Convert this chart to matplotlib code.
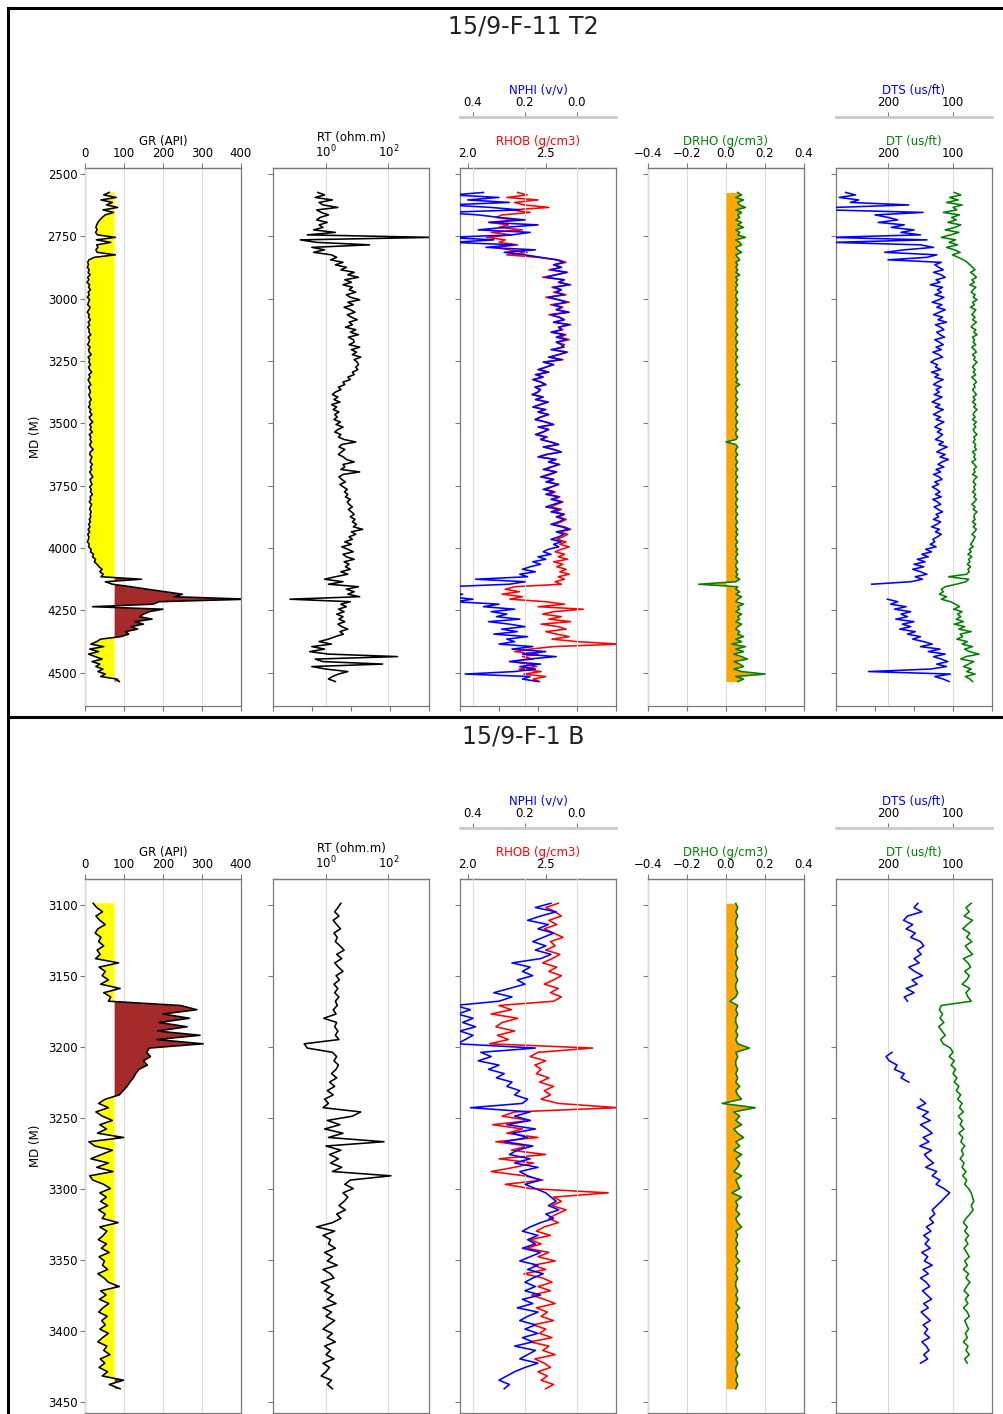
import numpy as np
import matplotlib
matplotlib.use("Agg")
import matplotlib.pyplot as plt
from matplotlib.lines import Line2D
from matplotlib.ticker import MultipleLocator, NullLocator

nan = np.nan
plt.rcParams['font.family'] = ['DejaVu Sans']

# ---------------------------------------------------------------- data
WELL_NAMES = ['15/9-F-11 T2', '15/9-F-1 B']

# Well 15/9-F-11 T2 : MD sampled every 10 m
w1_depth = np.arange(2575, 4536, 10)
w1_gr = [62, 48, 80, 41, 70, 55, 84, 46, 73, 52,
         44, 38, 33, 30, 28, 31, 27, 32, 78, 29,
         66, 30, 33, 28, 31, 78, 24, 10, 7, 9,
         6, 11, 8, 13, 7, 10, 5, 12, 9, 14,
         8, 11, 6, 12, 9, 7, 13, 10, 6, 11,
         9, 14, 8, 12, 7, 11, 10, 15, 8, 12,
         10, 7, 13, 9, 11, 16, 8, 12, 10, 14,
         9, 12, 17, 10, 13, 8, 11, 15, 9, 12,
         14, 10, 12, 16, 11, 13, 9, 15, 12, 18,
         11, 14, 20, 12, 16, 13, 19, 11, 15, 13,
         17, 12, 15, 21, 14, 12, 18, 15, 13, 19,
         14, 17, 12, 16, 20, 13, 15, 18, 12, 16,
         14, 19, 13, 15, 11, 17, 14, 12, 16, 13,
         15, 11, 14, 9, 13, 8, 12, 7, 10, 9,
         6, 11, 9, 16, 14, 22, 19, 27, 24, 31,
         36, 44, 38, 47, 41, 145, 52, 70, 118, 160,
         205, 250, 228, 420, 190, 175, 19, 200, 165, 150,
         140, 172, 128, 150, 118, 135, 104, 112, 92, 40,
         30, 15, 48, 12, 35, 9, 26, 44, 18, 38,
         28, 46, 33, 52, 40, 82, 88]
w1_rt = [0.55, 0.9, 0.45, 1.6, 0.6, 0.8, 2.4, 0.5, 0.7, 1.2,
         0.65, 0.5, 1.1, 0.6, 0.8, 0.4, 2.0, 0.25, 2500, 0.15,
         0.5, 25, 0.35, 0.9, 0.4, 1.5, 2.2, 1.4, 3.5, 2.0,
         4.5, 3.0, 8.0, 5.0, 11, 4.0, 6.5, 3.5, 7.0, 5.5,
         9.0, 4.5, 6.0, 12, 5.0, 7.5, 3.8, 6.0, 8.5, 4.8,
         6.5, 10, 5.5, 7.0, 4.2, 9.0, 6.0, 11, 5.2, 7.5,
         8.0, 5.5, 12, 6.5, 9.5, 7.0, 13, 8.0, 10, 11,
         9.0, 10.5, 7.0, 8.0, 5.0, 6.0, 3.5, 4.0, 2.5, 3.0,
         2.0, 1.6, 2.4, 1.8, 2.8, 1.5, 2.2, 1.7, 2.6, 1.9,
         2.3, 1.8, 2.9, 2.1, 3.5, 2.4, 1.9, 3.0, 2.5, 3.8,
         9.0, 3.2, 2.6, 4.0, 3.1, 2.5, 3.6, 4.5, 8.0, 3.5,
         4.0, 3.0, 12, 3.5, 2.6, 3.2, 4.2, 2.8, 3.6, 4.8,
         3.9, 5.0, 4.2, 6.0, 4.8, 5.5, 7.0, 5.2, 6.5, 8.0,
         6.0, 8.5, 7.0, 9.5, 7.5, 15, 6.5, 9.0, 5.5, 7.0,
         4.0, 6.5, 3.2, 5.0, 7.5, 3.5, 4.5, 8.0, 3.8, 5.5,
         4.2, 6.0, 3.0, 5.0, 2.0, 0.9, 3.5, 1.2, 11, 4.5,
         8.0, 5.0, 12, 0.07, 6.0, 3.0, 4.5, 2.5, 3.8, 2.2,
         3.5, 2.6, 4.0, 2.4, 3.2, 5.0, 2.8, 3.6, 2.0, 1.2,
         0.6, 1.5, 0.35, 0.9, 0.3, 1.2, 195, 0.45, 0.8, 65,
         0.35, 1.0, 5.0, 2.5, 1.6, 1.2, 2.0]
w1_rhob = [2.32, 2.38, 2.25, 2.45, 2.30, 2.36, 2.52, 2.28, 2.40, 2.22,
           2.18, 2.30, 2.14, 2.26, 2.20, 2.35, 2.15, 2.28, 2.12, 2.24,
           2.20, 2.32, 2.16, 2.27, 2.38, 2.25, 2.45, 2.58, 2.63, 2.55,
           2.60, 2.52, 2.64, 2.56, 2.48, 2.62, 2.58, 2.66, 2.54, 2.60,
           2.55, 2.63, 2.50, 2.58, 2.65, 2.53, 2.61, 2.57, 2.64, 2.52,
           2.59, 2.62, 2.55, 2.66, 2.58, 2.61, 2.54, 2.63, 2.59, 2.65,
           2.57, 2.62, 2.60, 2.55, 2.64, 2.58, 2.53, 2.61, 2.49, 2.55,
           2.50, 2.46, 2.52, 2.44, 2.48, 2.42, 2.47, 2.50, 2.43, 2.46,
           2.45, 2.41, 2.48, 2.44, 2.51, 2.46, 2.42, 2.49, 2.45, 2.52,
           2.47, 2.43, 2.50, 2.55, 2.46, 2.52, 2.48, 2.44, 2.51, 2.47,
           2.53, 2.58, 2.49, 2.55, 2.60, 2.51, 2.46, 2.56, 2.52, 2.59,
           2.54, 2.50, 2.57, 2.53, 2.48, 2.55, 2.52, 2.58, 2.54, 2.50,
           2.56, 2.52, 2.59, 2.55, 2.61, 2.57, 2.53, 2.60, 2.56, 2.62,
           2.58, 2.63, 2.60, 2.55, 2.62, 2.66, 2.59, 2.64, 2.61, 2.57,
           2.63, 2.59, 2.65, 2.60, 2.56, 2.62, 2.58, 2.64, 2.55, 2.61,
           2.57, 2.63, 2.59, 2.65, 2.58, 2.62, 2.56, 2.60, 2.30, 2.24,
           2.33, 2.22, 2.35, 2.27, 2.50, 2.62, 2.45, 2.74, 2.55, 2.48,
           2.60, 2.52, 2.66, 2.47, 2.58, 2.63, 2.50, 2.57, 2.65, 2.54,
           2.70, 2.97, 2.55, 2.40, 2.30, 2.45, 2.35, 2.42, 2.28, 2.38,
           2.44, 2.33, 2.47, 2.36, 2.50, 2.42, 2.46]
w1_nphi = [0.36, 0.48, 0.30, 0.42, 0.26, 0.50, 0.33, 0.22, 0.52, 0.38,
           0.30, 0.20, 0.34, 0.15, 0.28, 0.38, 0.18, 0.25, 0.50, 0.32,
           0.48, 0.24, 0.35, 0.16, 0.28, 0.20, 0.14, 0.08, 0.05, 0.09,
           0.06, 0.10, 0.04, 0.08, 0.12, 0.05, 0.07, 0.03, 0.09, 0.06,
           0.08, 0.05, 0.11, 0.07, 0.04, 0.09, 0.06, 0.08, 0.03, 0.10,
           0.07, 0.05, 0.09, 0.03, 0.07, 0.06, 0.10, 0.05, 0.08, 0.04,
           0.08, 0.06, 0.05, 0.10, 0.04, 0.07, 0.11, 0.06, 0.13, 0.09,
           0.12, 0.15, 0.11, 0.16, 0.13, 0.17, 0.14, 0.12, 0.16, 0.14,
           0.15, 0.17, 0.13, 0.16, 0.11, 0.14, 0.17, 0.12, 0.15, 0.11,
           0.14, 0.16, 0.12, 0.09, 0.15, 0.11, 0.13, 0.16, 0.12, 0.14,
           0.10, 0.07, 0.13, 0.09, 0.06, 0.12, 0.15, 0.08, 0.11, 0.07,
           0.10, 0.13, 0.08, 0.11, 0.14, 0.09, 0.12, 0.07, 0.10, 0.13,
           0.09, 0.12, 0.07, 0.10, 0.06, 0.09, 0.12, 0.07, 0.10, 0.05,
           0.08, 0.05, 0.07, 0.10, 0.06, 0.03, 0.08, 0.05, 0.07, 0.10,
           0.06, 0.09, 0.07, 0.11, 0.13, 0.10, 0.15, 0.12, 0.17, 0.14,
           0.18, 0.21, 0.16, 0.22, 0.19, 0.39, 0.20, 0.26, 0.50, 0.46,
           0.52, 0.44, 0.49, 0.40, 0.47, 0.30, 0.36, 0.24, 0.33, 0.27,
           0.31, 0.22, 0.34, 0.26, 0.20, 0.29, 0.23, 0.32, 0.19, 0.27,
           0.24, 0.30, 0.17, 0.25, 0.12, 0.21, 0.08, 0.19, 0.26, 0.14,
           0.22, 0.16, 0.24, 0.43, 0.18, 0.21, 0.15]
w1_drho = [0.06, 0.08, 0.05, 0.09, 0.06, 0.07, 0.10, 0.05, 0.08, 0.06,
           0.07, 0.05, 0.08, 0.06, 0.09, 0.05, 0.07, 0.06, 0.10, 0.05,
           0.07, 0.08, 0.05, 0.06, 0.08, 0.05, 0.06, 0.07, 0.05, 0.06,
           0.05, 0.06, 0.05, 0.07, 0.05, 0.06, 0.05, 0.06, 0.05, 0.05,
           0.06, 0.05, 0.05, 0.06, 0.05, 0.06, 0.05, 0.05, 0.06, 0.05,
           0.05, 0.06, 0.05, 0.05, 0.06, 0.05, 0.05, 0.06, 0.05, 0.05,
           0.06, 0.05, 0.05, 0.06, 0.05, 0.05, 0.06, 0.05, 0.05, 0.06,
           0.05, 0.05, 0.06, 0.05, 0.05, 0.06, 0.05, 0.07, 0.05, 0.05,
           0.06, 0.05, 0.05, 0.06, 0.05, 0.05, 0.06, 0.05, 0.05, 0.06,
           0.05, 0.05, 0.06, 0.05, 0.05, 0.06, 0.05, 0.05, 0.06, 0.05,
           0.00, 0.05, 0.06, 0.05, 0.05, 0.06, 0.05, 0.05, 0.06, 0.05,
           0.05, 0.06, 0.05, 0.05, 0.06, 0.05, 0.05, 0.06, 0.05, 0.05,
           0.06, 0.05, 0.05, 0.06, 0.05, 0.05, 0.06, 0.05, 0.05, 0.06,
           0.05, 0.05, 0.06, 0.05, 0.05, 0.06, 0.05, 0.06, 0.05, 0.05,
           0.06, 0.05, 0.05, 0.06, 0.05, 0.06, 0.05, 0.05, 0.06, 0.05,
           0.05, 0.06, 0.05, 0.06, 0.05, 0.07, 0.05, -0.14, 0.06, 0.05,
           0.07, 0.05, 0.08, 0.06, 0.05, 0.09, 0.06, 0.07, 0.05, 0.08,
           0.06, 0.07, 0.05, 0.08, 0.06, 0.05, 0.07, 0.06, 0.09, 0.05,
           0.08, 0.03, 0.10, 0.05, 0.09, 0.04, 0.08, 0.11, 0.04, 0.07,
           0.09, 0.04, 0.08, 0.20, 0.05, 0.09, 0.06]
w1_dt = [98, 88, 105, 92, 110, 86, 100, 94, 115, 90,
         102, 95, 108, 88, 97, 112, 91, 104, 118, 96,
         106, 93, 110, 98, 89, 101, 92, 84, 78, 74,
         70, 66, 73, 68, 64, 71, 67, 74, 65, 69,
         72, 66, 69, 63, 70, 67, 73, 65, 68, 71,
         66, 70, 64, 69, 72, 65, 68, 63, 70, 67,
         69, 65, 71, 67, 64, 70, 66, 68, 63, 67,
         70, 66, 69, 65, 71, 67, 64, 68, 66, 70,
         67, 64, 69, 66, 70, 65, 68, 63, 67, 69,
         66, 70, 64, 68, 65, 69, 67, 63, 68, 66,
         69, 65, 67, 64, 70, 66, 68, 65, 71, 67,
         64, 68, 66, 70, 63, 67, 69, 65, 68, 66,
         70, 65, 68, 64, 67, 71, 66, 69, 63, 67,
         68, 66, 70, 65, 69, 64, 67, 71, 66, 68,
         70, 73, 69, 75, 72, 77, 71, 76, 74, 78,
         73, 77, 75, 79, 107, 76, 80, 95, 112, 118,
         115, 121, 110, 118, 104, 96, 90, 99, 86, 93,
         88, 95, 84, 98, 82, 91, 72, 89, 85, 94,
         78, 86, 70, 82, 75, 60, 80, 88, 68, 76,
         84, 72, 79, 66, 81, 74, 70]
w1_dts = [265, 250, 275, 245, 258, 168, 282, 290, 146, 220,
          200, 185, 215, 175, 195, 160, 180, 150, 290, 140,
          285, 150, 130, 175, 205, 125, 140, 200, 118, 128,
          122, 115, 130, 118, 112, 126, 120, 135, 116, 124,
          118, 128, 114, 122, 132, 117, 125, 112, 121, 130,
          116, 123, 110, 127, 119, 114, 125, 120, 113, 128,
          121, 115, 126, 118, 131, 122, 116, 128, 134, 124,
          127, 119, 133, 122, 128, 115, 124, 130, 118, 126,
          121, 129, 117, 125, 132, 120, 127, 115, 123, 130,
          119, 126, 114, 122, 128, 118, 124, 116, 121, 127,
          115, 122, 109, 118, 125, 112, 120, 107, 117, 123,
          114, 126, 119, 130, 121, 117, 128, 122, 132, 125,
          120, 127, 118, 131, 124, 119, 129, 123, 116, 126,
          122, 130, 119, 125, 133, 121, 127, 118, 124, 131,
          128, 135, 126, 142, 133, 148, 138, 155, 143, 160,
          145, 162, 150, 140, 158, 147, 165, 225, nan, nan,
          nan, nan, nan, 201, 185, 196, 172, 190, 165, 180,
          170, 188, 160, 178, 165, 182, 158, 170, 150, 162,
          145, 132, 150, 120, 138, 112, 130, 118, 108, 125,
          110, 135, 230, 104, 128, 115, 106]

# Well 15/9-F-1 B : MD sampled every 3 m
w2_depth = np.arange(3099, 3442, 3)
w2_gr = [21, 30, 45, 28, 38, 52, 33, 26, 41, 35,
         48, 31, 39, 27, 86, 36, 52, 44, 60, 40,
         90, 48, 66, 60, 245, 287, 200, 268, 190, 262,
         186, 295, 184, 303, 165, 158, 168, 150, 160, 138,
         130, 124, 115, 108, 98, 88, 52, 35, 60, 28,
         45, 70, 38, 55, 32, 99, 10, 25, 70, 42,
         15, 60, 30, 72, 12, 20, 48, 65, 38, 55,
         40, 58, 35, 52, 44, 85, 38, 56, 47, 34,
         55, 42, 62, 36, 50, 45, 58, 33, 49, 60,
         88, 40, 54, 37, 61, 46, 35, 57, 43, 52,
         38, 60, 45, 33, 56, 48, 64, 39, 51, 36,
         58, 44, 99, 62, 90]
w2_rt = [3.0, 2.4, 1.9, 2.6, 1.7, 2.2, 2.9, 1.8, 2.3, 2.0,
         2.8, 3.8, 2.2, 3.2, 1.9, 2.5, 3.5, 2.1, 2.7, 1.8,
         2.4, 1.9, 2.6, 2.0, 2.3, 1.7, 2.1, 0.85, 2.2, 1.9,
         2.4, 2.0, 2.6, 0.2, 0.25, 1.6, 2.2, 1.8, 2.5, 2.1,
         1.5, 2.2, 1.3, 1.9, 1.1, 1.7, 0.9, 1.2, 0.8, 13,
         7.0, 1.1, 2.8, 0.9, 3.5, 1.2, 72, 1.0, 3.0, 1.3,
         2.5, 1.4, 3.2, 1.6, 120, 6.0, 4.0, 7.5, 3.5, 5.0,
         3.8, 2.6, 4.2, 2.2, 3.0, 1.6, 0.5, 1.9, 0.8, 1.4,
         1.2, 2.0, 0.9, 1.6, 1.1, 2.3, 0.8, 1.4, 1.8, 0.7,
         1.3, 0.9, 1.7, 1.1, 2.1, 0.8, 1.5, 1.0, 1.9, 1.2,
         0.8, 1.6, 1.1, 2.0, 0.9, 1.4, 1.0, 1.8, 0.8, 1.3,
         1.0, 0.7, 1.5, 1.1, 1.6]
w2_rhob = [2.58, 2.50, 2.56, 2.60, 2.52, 2.57, 2.49, 2.55, 2.61, 2.53,
           2.56, 2.50, 2.59, 2.54, 2.48, 2.57, 2.52, 2.60, 2.55, 2.49,
           2.58, 2.53, 2.60, 2.55, 2.20, 2.28, 2.15, 2.32, 2.22, 2.18,
           2.30, 2.19, 2.26, 2.14, 2.80, 2.45, 2.40, 2.50, 2.43, 2.47,
           2.44, 2.52, 2.46, 2.55, 2.49, 2.53, 2.47, 2.58, 2.96, 2.30,
           2.22, 2.40, 2.16, 2.35, 2.25, 2.45, 2.18, 2.38, 2.28, 2.50,
           2.20, 2.42, 2.30, 2.15, 2.36, 2.48, 2.24, 2.40, 2.90, 2.55,
           2.60, 2.54, 2.63, 2.57, 2.52, 2.58, 2.49, 2.44, 2.53, 2.40,
           2.47, 2.38, 2.52, 2.45, 2.56, 2.42, 2.50, 2.36, 2.48, 2.54,
           2.45, 2.53, 2.41, 2.49, 2.56, 2.44, 2.51, 2.47, 2.55, 2.42,
           2.50, 2.46, 2.54, 2.40, 2.52, 2.48, 2.56, 2.43, 2.49, 2.53,
           2.45, 2.51, 2.47, 2.55, 2.50]
w2_nphi = [0.10, 0.16, 0.08, 0.14, 0.19, 0.11, 0.15, 0.09, 0.13, 0.17,
           0.12, 0.16, 0.10, 0.14, 0.25, 0.18, 0.21, 0.17, 0.23, 0.20,
           0.26, 0.32, 0.25, 0.30, 0.47, 0.41, 0.46, 0.40, 0.44, 0.39,
           0.45, 0.40, 0.43, 0.46, 0.16, 0.37, 0.33, 0.38, 0.30, 0.34,
           0.28, 0.31, 0.25, 0.27, 0.22, 0.24, 0.19, 0.21, 0.41, 0.18,
           0.24, 0.18, 0.27, 0.16, 0.25, 0.19, 0.28, 0.17, 0.23, 0.26,
           0.18, 0.24, 0.15, 0.22, 0.19, 0.14, 0.20, 0.16, 0.12, 0.10,
           0.08, 0.11, 0.07, 0.12, 0.09, 0.14, 0.18, 0.21, 0.15, 0.19,
           0.16, 0.21, 0.14, 0.18, 0.22, 0.15, 0.19, 0.13, 0.17, 0.20,
           0.16, 0.20, 0.14, 0.21, 0.17, 0.23, 0.15, 0.19, 0.22, 0.16,
           0.20, 0.15, 0.21, 0.17, 0.24, 0.16, 0.19, 0.22, 0.15, 0.20,
           0.24, 0.27, 0.30, 0.26, 0.28]
w2_drho = [0.05, 0.06, 0.05, 0.06, 0.05, 0.05, 0.06, 0.05, 0.06, 0.05,
           0.06, 0.05, 0.05, 0.06, 0.05, 0.06, 0.05, 0.05, 0.06, 0.05,
           0.05, 0.06, 0.05, 0.02, 0.06, 0.05, 0.06, 0.05, 0.05, 0.06,
           0.05, 0.06, 0.05, 0.06, 0.12, 0.05, 0.06, 0.05, 0.05, 0.06,
           0.05, 0.06, 0.05, 0.07, 0.05, 0.06, 0.08, -0.02, 0.15, 0.04,
           0.07, 0.05, 0.08, 0.04, 0.06, 0.09, 0.05, 0.07, 0.04, 0.08,
           0.05, 0.07, 0.06, 0.04, 0.08, 0.05, 0.06, 0.07, 0.03, 0.08,
           0.05, 0.06, 0.05, 0.07, 0.05, 0.06, 0.08, 0.05, 0.06, 0.05,
           0.06, 0.05, 0.06, 0.05, 0.07, 0.05, 0.06, 0.05, 0.06, 0.05,
           0.05, 0.06, 0.05, 0.06, 0.05, 0.07, 0.05, 0.06, 0.05, 0.06,
           0.06, 0.05, 0.06, 0.05, 0.06, 0.05, 0.07, 0.05, 0.06, 0.05,
           0.05, 0.06, 0.05, 0.06, 0.05]
w2_dt = [72, 80, 75, 83, 70, 78, 85, 74, 79, 71,
         81, 76, 70, 84, 77, 73, 82, 75, 79, 86,
         74, 80, 77, 72, 118, 121, 116, 120, 114, 122,
         117, 112, 119, 115, 104, 100, 106, 98, 103, 96,
         100, 94, 98, 91, 95, 88, 93, 86, 90, 84,
         92, 86, 89, 83, 91, 85, 88, 82, 87, 84,
         89, 83, 86, 80, 85, 79, 82, 76, 72, 70,
         68, 72, 69, 74, 80, 84, 78, 82, 76, 81,
         77, 83, 79, 75, 82, 78, 84, 76, 80, 74,
         79, 83, 76, 81, 77, 84, 78, 75, 82, 79,
         76, 81, 78, 84, 77, 80, 75, 82, 78, nan,
         nan, nan, nan, nan, nan]
w2_dts = [154, 160, 148, 170, 176, 162, 172, 158, 165, 150,
          145, 155, 149, 160, 152, 168, 159, 147, 163, 155,
          172, 160, 175, 170, nan, nan, nan, nan, nan, nan,
          nan, nan, nan, nan, nan, 194, 203, 198, 186, 190,
          175, 180, 168, nan, nan, nan, 150, 142, 155, 138,
          147, 135, 150, 140, 132, 146, 137, 151, 133, 144,
          138, 130, 142, 125, 132, 120, 126, 114, 105, 112,
          118, 125, 132, 128, 136, 130, 141, 134, 145, 137,
          143, 135, 148, 139, 144, 132, 146, 138, 150, 141,
          136, 147, 140, 133, 145, 138, 149, 142, 135, 146,
          139, 144, 136, 148, 141, 137, 145, 139, 150, nan,
          nan, nan, nan, nan, nan]

# track scales
GR_LIM, GR_TICKS, GR_CUTOFF = (0, 400), [0, 100, 200, 300, 400], 76
RT_LIM, RT_TICKS = (0.02, 2000), [1, 100]
RHOB_LIM, RHOB_TICKS = (1.95, 2.95), [2.0, 2.5]
NPHI_LIM, NPHI_TICKS = (0.45, -0.15), [0.4, 0.2, 0.0]
DRHO_LIM, DRHO_TICKS = (-0.4, 0.4), [-0.4, -0.2, 0.0, 0.2, 0.4]
DT_LIM, DT_TICKS = (280, 40), [200, 100]

# ---------------------------------------------------------------- layout
W, H = 1004, 1414
fig = plt.figure(figsize=(W / 100, H / 100), dpi=100)
fig.patch.set_facecolor('white')

SPINE = '#7a7a7a'
GRID = '#dcdcdc'
FS = 8.5
LW = 1.15
TRACK_X = [85, 273, 460, 648, 836]
TRACK_W = 156


def px_rect(x0, y0, x1, y1):
    return [x0 / W, 1 - y1 / H, (x1 - x0) / W, (y1 - y0) / H]


def style_top(t, label, color, lim, ticks, grid=True, offset=None, log=False):
    if log:
        t.set_xscale('log')
    t.set_xlim(*lim)
    t.set_xticks(ticks)
    t.xaxis.set_minor_locator(NullLocator())
    t.set_xlabel(label, color=color, fontsize=FS, labelpad=2)
    t.tick_params(axis='x', which='major', labelsize=FS, color=SPINE,
                  length=3.5, pad=2)
    for s in ('left', 'right', 'bottom'):
        t.spines[s].set_visible(False)
    if offset is None:
        t.spines['top'].set_color(SPINE)
        t.spines['top'].set_linewidth(0.9)
    else:
        t.spines['top'].set_position(('outward', offset))
        t.spines['top'].set_color('#c9c9c9')
        t.spines['top'].set_linewidth(2.0)
    t.set_axisbelow(True)
    if grid:
        t.grid(axis='x', color=GRID, lw=0.8)


def draw_well(name, y_title, y_top, y_bot, depth, gr, rt, rhob, nphi,
              drho, dt, dts, step):
    d = np.asarray(depth, float)
    lo, hi = d.min(), d.max()
    pad = 0.05 * (hi - lo)
    ylim = (hi + pad, lo - pad)
    fig.text(523 / W, 1 - y_title / H, name, ha='center', va='center',
             fontsize=17, color='#222222')
    bases = []
    for k, x0 in enumerate(TRACK_X):
        b = fig.add_axes(px_rect(x0, y_top, x0 + TRACK_W, y_bot))
        b.set_xlim(0, 1)
        b.set_xticks([0, 0.25, 0.5, 0.75, 1.0])
        b.set_ylim(*ylim)
        b.yaxis.set_major_locator(MultipleLocator(step))
        b.tick_params(axis='x', labelbottom=False, color=SPINE, length=3.5)
        b.tick_params(axis='y', labelleft=(k == 0), labelsize=FS,
                      color=SPINE, length=3.5, pad=2)
        for s in b.spines.values():
            s.set_color(SPINE)
            s.set_linewidth(0.9)
        bases.append(b)
    bases[0].set_ylabel('MD (M)', fontsize=FS, labelpad=4)

    # GR track
    g = np.asarray(gr, float)
    t = bases[0].twiny()
    style_top(t, 'GR (API)', 'black', GR_LIM, GR_TICKS)
    t.fill_betweenx(d, g, GR_CUTOFF, where=g < GR_CUTOFF, color='yellow',
                    interpolate=True, lw=0)
    t.fill_betweenx(d, g, GR_CUTOFF, where=g >= GR_CUTOFF, color='brown',
                    interpolate=True, lw=0)
    t.plot(g, d, color='black', lw=LW)

    # RT track
    t = bases[1].twiny()
    style_top(t, 'RT (ohm.m)', 'black', RT_LIM, RT_TICKS, log=True)
    t.plot(rt, d, color='black', lw=LW)

    # RHOB / NPHI track
    t = bases[2].twiny()
    style_top(t, 'RHOB (g/cm3)', 'red', RHOB_LIM, RHOB_TICKS, grid=False)
    t.plot(rhob, d, color='red', lw=LW)
    t2 = bases[2].twiny()
    style_top(t2, 'NPHI (v/v)', 'blue', NPHI_LIM, NPHI_TICKS, offset=37)
    t2.plot(nphi, d, color='blue', lw=LW)

    # DRHO track
    t = bases[3].twiny()
    style_top(t, 'DRHO (g/cm3)', 'green', DRHO_LIM, DRHO_TICKS)
    t.fill_betweenx(d, 0, drho, color='orange', lw=0)
    t.plot(drho, d, color='green', lw=LW)

    # DT / DTS track
    t = bases[4].twiny()
    style_top(t, 'DT (us/ft)', 'green', DT_LIM, DT_TICKS)
    t.plot(dt, d, color='green', lw=LW)
    t2 = bases[4].twiny()
    style_top(t2, 'DTS (us/ft)', 'blue', DT_LIM, DT_TICKS, grid=False,
              offset=37)
    t2.plot(dts, d, color='blue', lw=LW)

    for b in bases:
        b.set_ylim(*ylim)


draw_well(WELL_NAMES[0], 26, 168, 706, w1_depth, w1_gr, w1_rt, w1_rhob,
          w1_nphi, w1_drho, w1_dt, w1_dts, 250)
draw_well(WELL_NAMES[1], 736, 879, 1413, w2_depth, w2_gr, w2_rt, w2_rhob,
          w2_nphi, w2_drho, w2_dt, w2_dts, 50)

# screenshot frame lines
for xs, ys in [([8, W], [8, 8]), ([8, 8], [8, H]), ([8, W], [717, 717])]:
    fig.add_artist(Line2D([x / W for x in xs], [1 - y / H for y in ys],
                          transform=fig.transFigure, color='black', lw=2.2))

fig.savefig('out.png', dpi=100)
